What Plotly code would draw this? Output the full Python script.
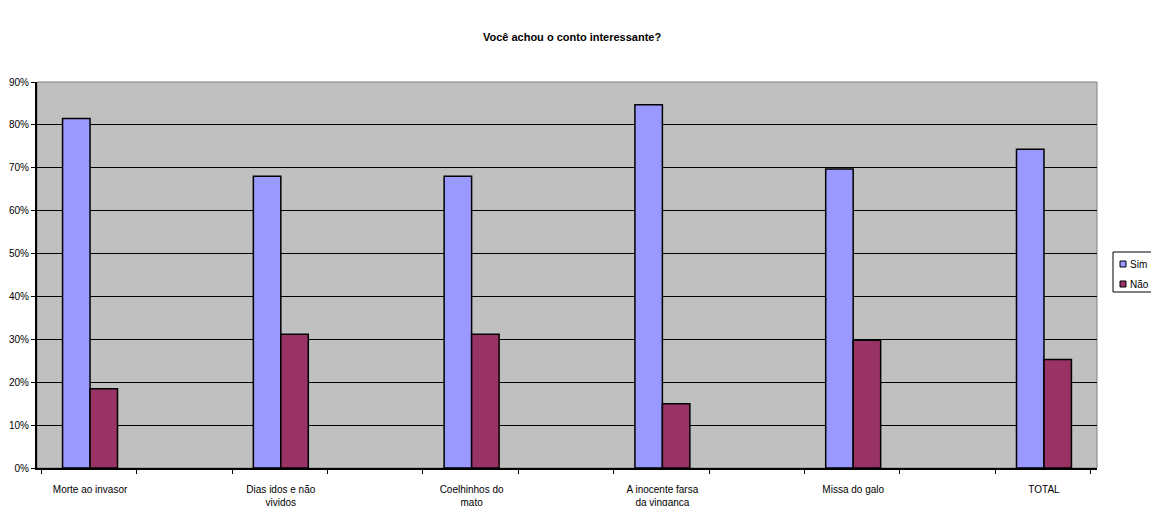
import plotly.graph_objects as go

categories = ["Morte ao invasor", "Dias idos e não<br>vividos", "Coelhinhos do<br>mato",
              "A inocente farsa<br>da vingança", "Missa do galo", "TOTAL"]
sim = [0.815, 0.680, 0.680, 0.847, 0.697, 0.743]
nao = [0.185, 0.312, 0.312, 0.150, 0.298, 0.253]
y_ticks = [0, 0.1, 0.2, 0.3, 0.4, 0.5, 0.6, 0.7, 0.8, 0.9]
series_names = ["Sim", "Não"]
series_colors = ["#9999FF", "#993366"]

W, H = 1151, 506
L, R, T, B = 37, 54, 82, 38
font = "Arial, Liberation Sans, sans-serif"
pos = list(range(len(categories)))


def px(x):
    return (x - L) / (W - L - R)


def py(y):
    return (H - B - y) / (H - T - B)


fig = go.Figure()
for name, vals, color in zip(series_names, [sim, nao], series_colors):
    fig.add_trace(go.Bar(x=pos, y=vals, name=name, offsetgroup=name, showlegend=False,
                         marker=dict(color=color, line=dict(color="black", width=1.5))))

# legend box drawn by hand so it can sit at the page edge
shapes = [
    dict(type="rect", xref="paper", yref="paper", x0=0, y0=0, x1=1, y1=1,
         line=dict(color="#808080", width=1), layer="below"),
    dict(type="rect", xref="paper", yref="paper", x0=px(1113), x1=px(1170),
         y0=py(292), y1=py(252), line=dict(color="black", width=1), fillcolor="white"),
]
annotations = []
for i, (name, color) in enumerate(zip(series_names, series_colors)):
    cy = 264 + i * 20
    shapes.append(dict(type="rect", xref="paper", yref="paper", x0=px(1120), x1=px(1126),
                       y0=py(cy + 3), y1=py(cy - 3), fillcolor=color,
                       line=dict(color="black", width=1)))
    annotations.append(dict(text=name, xref="paper", yref="paper", x=px(1128), y=py(cy),
                            xanchor="left", yanchor="middle", showarrow=False,
                            font=dict(size=10, family=font, color="black")))

fig.update_layout(
    width=W, height=H,
    margin=dict(l=L, r=R, t=T, b=B, autoexpand=False),
    paper_bgcolor="white", plot_bgcolor="#C0C0C0",
    barmode="group", bargap=0.712, bargroupgap=0,
    showlegend=False,
    font=dict(family=font, size=10, color="black"),
    title=dict(text="<b>Você achou o conto interessante?</b>", x=0.497, xanchor="center",
               y=0.926, yanchor="middle", font=dict(size=11, family=font, color="black")),
    xaxis=dict(range=[-0.278, 5.278], tickmode="array", tickvals=pos, ticktext=categories,
               showgrid=False, zeroline=False, showline=True, linecolor="black", linewidth=2,
               ticks="", ticklabelstandoff=11, tickfont=dict(size=10, family=font),
               minor=dict(tick0=0.245, dtick=0.5, ticks="outside", ticklen=4,
                          tickcolor="black", tickwidth=1, showgrid=False)),
    yaxis=dict(range=[0, 0.9], tickmode="array", tickvals=y_ticks, tickformat=".0%",
               showgrid=True, gridcolor="black", gridwidth=1, zeroline=False,
               showline=True, linecolor="black", linewidth=2,
               ticks="outside", ticklen=4, tickcolor="black",
               tickfont=dict(size=10, family=font)),
    shapes=shapes,
    annotations=annotations,
)

fig.write_html("out.html")
